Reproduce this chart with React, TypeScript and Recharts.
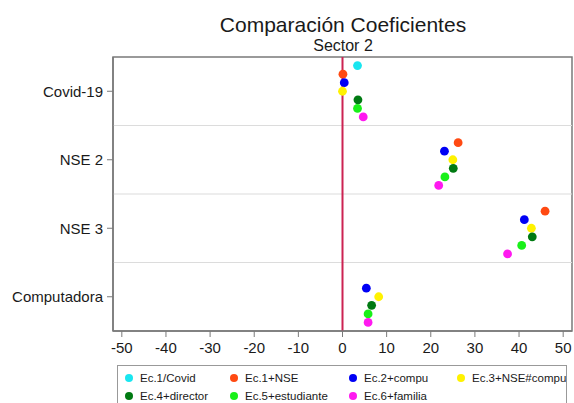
import React from "react";
import {
  ScatterChart,
  Scatter,
  XAxis,
  YAxis,
  ReferenceLine,
  ReferenceArea,
} from "recharts";

// Coefficient estimates per regressor (rows) for each model specification.
const categories = ["Covid-19", "NSE 2", "NSE 3", "Computadora"];

const ec1Covid = [3.4, null, null, null];
const ec1Nse = [0.1, 26.2, 45.9, null];
const ec2Compu = [0.4, 23.1, 41.2, 5.4];
const ec3NseCompu = [0.0, 25.0, 42.8, 8.2];
const ec4Director = [3.5, 25.1, 43.0, 6.6];
const ec5Estudiante = [3.4, 23.2, 40.6, 5.8];
const ec6Familia = [4.7, 21.8, 37.4, 5.8];

const xTicks = [-50, -40, -30, -20, -10, 0, 10, 20, 30, 40, 50];

const seriesDefs = [
  { name: "Ec.1/Covid", values: ec1Covid, color: "#19E6F0" },
  { name: "Ec.1+NSE", values: ec1Nse, color: "#FF4A12" },
  { name: "Ec.2+compu", values: ec2Compu, color: "#0000F5" },
  { name: "Ec.3+NSE#compu", values: ec3NseCompu, color: "#FFF200" },
  { name: "Ec.4+director", values: ec4Director, color: "#007A12" },
  { name: "Ec.5+estudiante", values: ec5Estudiante, color: "#19F019" },
  { name: "Ec.6+familia", values: ec6Familia, color: "#FF19F0" },
];

// Each model is dodged vertically inside its category band.
const DODGE = 0.125;
const series = seriesDefs.map((s, k) => ({
  ...s,
  points: s.values
    .map((v, i) =>
      v === null ? null : { x: v, y: i + 1 + (k - 3) * DODGE }
    )
    .filter(Boolean),
}));

const FONT = '"Liberation Sans", Arial, sans-serif';
const TEXT = "#1a1a1a";
const FRAME = "#7a7a7a";

const Dot = (color: string) => (props: any) =>
  <circle cx={props.cx} cy={props.cy} r={4.4} fill={color} />;

export default function App() {
  return (
    <div
      style={{
        position: "absolute",
        left: 0,
        top: 0,
        width: 574,
        height: 403,
        overflow: "hidden",
        background: "#fff",
        fontFamily: FONT,
      }}
    >
      <div
        style={{
          position: "absolute",
          left: 143,
          width: 400,
          top: 13,
          textAlign: "center",
          fontSize: 21,
          lineHeight: "24px",
          color: TEXT,
        }}
      >
        Comparación Coeficientes
      </div>
      <div
        style={{
          position: "absolute",
          left: 143,
          width: 400,
          top: 36,
          textAlign: "center",
          fontSize: 16,
          lineHeight: "20px",
          color: TEXT,
        }}
      >
        Sector 2
      </div>

      <ScatterChart
        width={574}
        height={403}
        margin={{ top: 57, right: 2, bottom: 42, left: 0 }}
      >
        <XAxis
          type="number"
          dataKey="x"
          domain={[-52, 52]}
          ticks={xTicks}
          allowDataOverflow
          height={30}
          tickSize={6}
          tickMargin={5}
          stroke={FRAME}
          tick={{ fontSize: 15, fill: TEXT, fontFamily: FONT }}
          tickLine={{ stroke: FRAME }}
          axisLine={{ stroke: FRAME, strokeWidth: 1.5 }}
        />
        <YAxis
          type="number"
          dataKey="y"
          domain={[0.5, 4.5]}
          reversed
          ticks={[1, 2, 3, 4]}
          tickFormatter={(v: number) => categories[v - 1]}
          width={113}
          tickSize={6}
          tickMargin={4}
          stroke={FRAME}
          tick={{ fontSize: 15, fill: TEXT, fontFamily: FONT }}
          tickLine={{ stroke: FRAME }}
          axisLine={{ stroke: FRAME, strokeWidth: 1.5 }}
        />
        {[1.5, 2.5, 3.5].map((y) => (
          <ReferenceLine key={y} y={y} stroke="#dcdcdc" strokeWidth={1.2} />
        ))}
        <ReferenceArea
          x1={-52}
          x2={52}
          y1={0.5}
          y2={4.5}
          fill="none"
          fillOpacity={0}
          stroke={FRAME}
          strokeWidth={1.5}
        />
        <ReferenceLine x={0} stroke="#CC2352" strokeWidth={2} />
        {series.map((s) => (
          <Scatter
            key={s.name}
            name={s.name}
            data={s.points as any[]}
            fill={s.color}
            shape={Dot(s.color)}
            isAnimationActive={false}
          />
        ))}
      </ScatterChart>

      {/* legend box */}
      <div
        style={{
          position: "absolute",
          left: 117,
          top: 365,
          width: 450,
          height: 50,
          border: "1px solid #999",
          boxSizing: "border-box",
        }}
      >
        {series.map((s, k) => {
          const cols = [11, 116, 235, 343];
          const col = k % 4;
          const row = Math.floor(k / 4);
          return (
            <div
              key={s.name}
              style={{
                position: "absolute",
                left: cols[col] - 4,
                top: 3 + row * 18,
                height: 18,
                display: "flex",
                alignItems: "center",
                fontSize: 11.5,
                color: TEXT,
                whiteSpace: "nowrap",
              }}
            >
              <span
                style={{
                  display: "inline-block",
                  width: 8,
                  height: 8,
                  borderRadius: 4,
                  background: s.color,
                  marginRight: 7,
                }}
              />
              {s.name}
            </div>
          );
        })}
      </div>
    </div>
  );
}
